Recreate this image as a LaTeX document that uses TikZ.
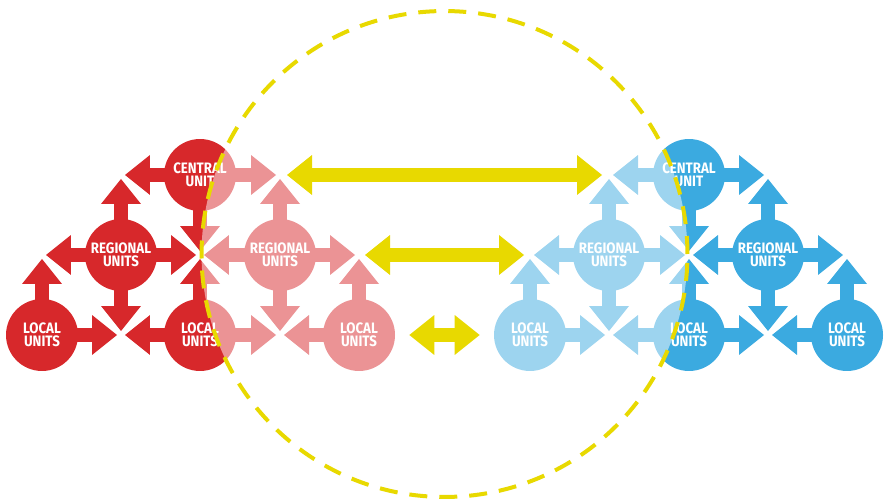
\documentclass[tikz,border=0pt]{standalone}
\usepackage{fontspec}
\newfontfamily\unitfont{Fira Sans}[FakeStretch=0.88]
\usetikzlibrary{arrows.meta}
\definecolor{unitred}{HTML}{D7282B}
\definecolor{unitblue}{HTML}{3BAAE0}
\definecolor{linkyellow}{HTML}{E8D900}

\begin{document}
\begin{tikzpicture}[x=0.02cm,y=-0.02cm]
\tikzstyle{unit}=[circle,inner sep=0pt,minimum size=1.44cm,text=white,align=center,font=\unitfont\bfseries\fontsize{8.6}{7.6}\selectfont]
\tikzstyle{flow}=[line width=0.28cm,-{Triangle[width=0.8cm,length=0.5cm,line width=0pt]},shorten <=-0.04cm,shorten >=0.08cm]
\tikzstyle{link}=[line width=0.28cm,linkyellow,{Triangle[width=0.8cm,length=0.5cm,line width=0pt]}-{Triangle[width=0.8cm,length=0.5cm,line width=0pt]}]
\useasboundingbox (0,0) rectangle (884,499);

% red side
\node[unit,fill=unitred] (locA) at (42,335) {LOCAL\\UNITS};
\node[unit,fill=unitred] (regA) at (121,255) {REGIONAL\\UNITS};
\node[unit,fill=unitred] (cenA) at (200,175) {CENTRAL\\UNIT};
\node[unit,fill=unitred] (locB) at (200,335) {LOCAL\\UNITS};
\node[unit,fill=unitred] (regB) at (280,255) {REGIONAL\\UNITS};
\node[unit,fill=unitred] (locC) at (359,335) {LOCAL\\UNITS};
\coordinate (jA1) at (42,255);
\coordinate (jA2) at (121,175);
\coordinate (jA3) at (121,335);
\coordinate (jA4) at (200,255);
\coordinate (jA5) at (280,175);
\coordinate (jA6) at (280,335);
\coordinate (jA7) at (359,255);
\foreach \a/\b in {locA/jA1,locA/jA3,regA/jA1,regA/jA2,regA/jA4,regA/jA3,
  cenA/jA2,cenA/jA5,cenA/jA4,locB/jA3,locB/jA4,locB/jA6,
  regB/jA4,regB/jA5,regB/jA7,regB/jA6,locC/jA6,locC/jA7}
  \draw[flow,unitred] (\a) -- (\b);

% blue side
\node[unit,fill=unitblue] (locD) at (530,335) {LOCAL\\UNITS};
\node[unit,fill=unitblue] (regC) at (609,255) {REGIONAL\\UNITS};
\node[unit,fill=unitblue] (cenB) at (689,175) {CENTRAL\\UNIT};
\node[unit,fill=unitblue] (locE) at (689,335) {LOCAL\\UNITS};
\node[unit,fill=unitblue] (regD) at (768,255) {REGIONAL\\UNITS};
\node[unit,fill=unitblue] (locF) at (847,335) {LOCAL\\UNITS};
\coordinate (jB1) at (530,255);
\coordinate (jB2) at (609,175);
\coordinate (jB3) at (609,335);
\coordinate (jB4) at (689,255);
\coordinate (jB5) at (768,175);
\coordinate (jB6) at (768,335);
\coordinate (jB7) at (847,255);
\foreach \a/\b in {locD/jB1,locD/jB3,regC/jB1,regC/jB2,regC/jB4,regC/jB3,
  cenB/jB2,cenB/jB5,cenB/jB4,locE/jB3,locE/jB4,locE/jB6,
  regD/jB4,regD/jB5,regD/jB7,regD/jB6,locF/jB6,locF/jB7}
  \draw[flow,unitblue] (\a) -- (\b);

% shared zone
\coordinate (hub) at (444.5,254);
\fill[white,fill opacity=0.5] (hub) circle[radius=4.86cm];
\draw[link,shorten <=0.14cm,shorten >=0.14cm] (jA5) -- (jB2);
\draw[link,shorten <=0.12cm,shorten >=0.12cm] (jA7) -- (jB1);
\draw[link,shorten <=0.28cm,shorten >=0.28cm] (locC) -- (locD);
\draw[linkyellow,line width=0.08cm,dash pattern=on 0.36cm off 0.24cm] (hub) circle[radius=4.86cm];
\end{tikzpicture}
\end{document}
